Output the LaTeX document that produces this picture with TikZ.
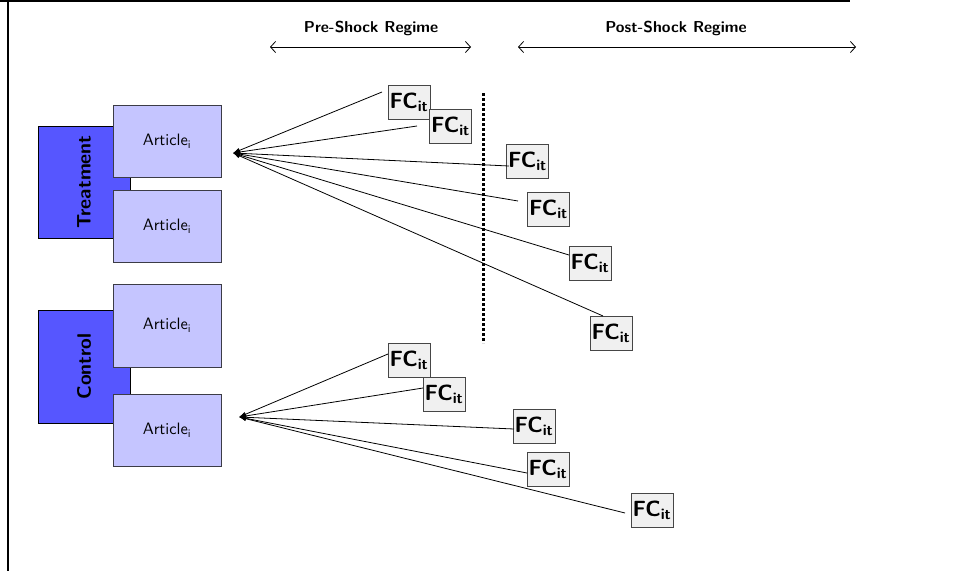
\documentclass[tikz,border=0pt]{standalone}
\usepackage{fontspec}
% keep the 10pt design of Latin Modern Sans at every size
\setsansfont{lmsans10-regular.otf}[BoldFont=lmsans10-bold.otf]
\usetikzlibrary{arrows.meta}

\definecolor{grpblue}{RGB}{86,86,255}
\definecolor{artfill}{RGB}{197,197,255}
\definecolor{boxedge}{RGB}{60,60,70}
\definecolor{fcfill}{RGB}{240,240,240}
\definecolor{fcedge}{RGB}{70,70,70}

\begin{document}
\begin{tikzpicture}[x=1pt,y=-1pt,
  frameline/.style={line width=2.5pt,black},
  groupbox/.style={draw=black,line width=0.8pt,fill=grpblue,
    minimum width=92pt,inner sep=0pt},
  grouplabel/.style={rotate=90,inner sep=0pt,
    font=\fontsize{19.5}{22}\selectfont\sffamily\bfseries},
  articlebox/.style={draw=boxedge,line width=0.9pt,fill=artfill,
    minimum width=108pt,minimum height=72pt,inner sep=0pt,
    font=\fontsize{16.5}{19}\selectfont\sffamily},
  fcbox/.style={draw=fcedge,line width=0.9pt,fill=fcfill,
    minimum width=42pt,minimum height=34pt,inner sep=0pt,
    font=\fontsize{22}{24}\selectfont\sffamily\bfseries},
  link/.style={line width=0.8pt,{Latex[length=7pt,width=5pt]}-},
  regime/.style={line width=0.8pt,
    {Straight Barb[length=5pt,width=11pt]}-{Straight Barb[length=5pt,width=11pt]}},
  regimelabel/.style={inner sep=0pt,
    font=\fontsize{15.8}{18}\selectfont\sffamily\bfseries},
  shockline/.style={line width=3pt,dash pattern=on 3pt off 2pt}
]
\useasboundingbox (0,0) rectangle (954,571);

% slide frame
\draw[frameline] (0,1) -- (850,1);
\draw[frameline] (8,0) -- (8,571);

% regime headers
\coordinate (preL) at (270,47);
\coordinate (preR) at (471,47);
\coordinate (postL) at (518,47);
\coordinate (postR) at (856,47);
\draw[regime] (preL) -- (preR);
\draw[regime] (postL) -- (postR);
\node[regimelabel] (prelbl) at (371,28) {Pre-Shock Regime};
\node[regimelabel] (postlbl) at (676,28) {Post-Shock Regime};

% shock boundary
\coordinate (shockTop) at (483,93);
\coordinate (shockBot) at (483,343);
\draw[shockline] (shockTop) -- (shockBot);

% treatment group
\node[groupbox,minimum height=112pt] (treat) at (84,182) {};
\node[grouplabel] (treatlbl) at (treat.center) {Treatment};
\node[articlebox] (art1) at (167,141) {Article\textsubscript{i}};
\node[articlebox] (art2) at (167,226) {Article\textsubscript{i}};

% control group
\node[groupbox,minimum height=113pt] (ctrl) at (84,366.5) {};
\node[grouplabel] (ctrllbl) at (ctrl.center) {Control};
\node[articlebox,minimum height=83pt] (art3) at (167,325.5) {Article\textsubscript{i}};
\node[articlebox] (art4) at (167,430) {Article\textsubscript{i}};

% forecasts for the treated article
\node[fcbox] (fc1) at (409,102) {FC\textsubscript{it}};
\node[fcbox] (fc2) at (450.5,126.5) {FC\textsubscript{it}};
\node[fcbox] (fc3) at (527.5,161) {FC\textsubscript{it}};
\node[fcbox] (fc4) at (548.5,209) {FC\textsubscript{it}};
\node[fcbox] (fc5) at (590,263) {FC\textsubscript{it}};
\node[fcbox] (fc6) at (611,333) {FC\textsubscript{it}};

% forecasts for the control article
\node[fcbox] (fc7) at (409,360.5) {FC\textsubscript{it}};
\node[fcbox] (fc8) at (444,394.5) {FC\textsubscript{it}};
\node[fcbox] (fc9) at (534,426) {FC\textsubscript{it}};
\node[fcbox] (fc10) at (548,469.5) {FC\textsubscript{it}};
\node[fcbox] (fc11) at (652,510.5) {FC\textsubscript{it}};

% fan of links, treated article
\coordinate (tsrc) at (233,153);
\coordinate (t1) at (382,92);
\coordinate (t2) at (417,126);
\coordinate (t3) at (509,166);
\coordinate (t4) at (518,201);
\coordinate (t5) at (569,255);
\coordinate (t6) at (603,316);
\foreach \e in {t1,t2,t3,t4,t5,t6}
  \draw[link] (tsrc) -- (\e);

% fan of links, control article
\coordinate (csrc) at (239,417);
\coordinate (c1) at (388,354);
\coordinate (c2) at (423,388);
\coordinate (c3) at (514,429);
\coordinate (c4) at (527,473);
\coordinate (c5) at (625,513);
\foreach \e in {c1,c2,c3,c4,c5}
  \draw[link] (csrc) -- (\e);
\end{tikzpicture}
\end{document}
